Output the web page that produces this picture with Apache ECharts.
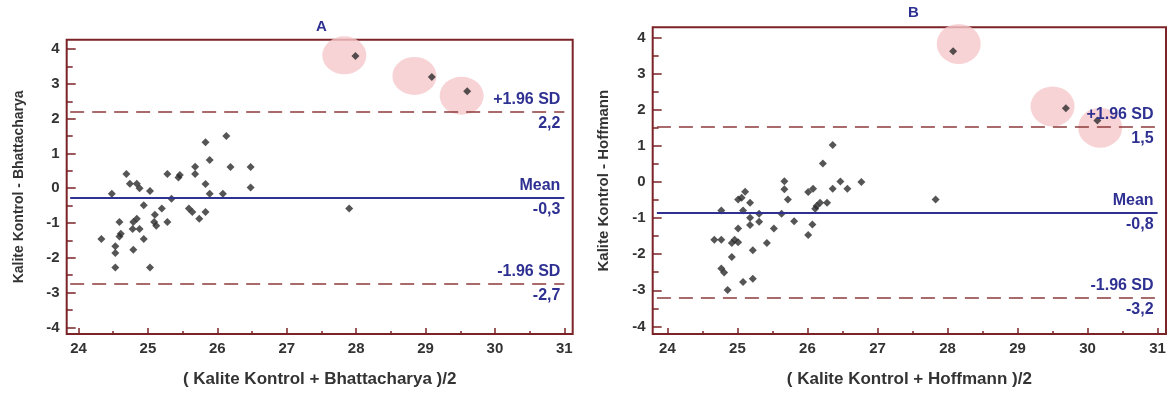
<!DOCTYPE html>
<html>
<head>
<meta charset="utf-8">
<script src="https://cdn.jsdelivr.net/npm/echarts@6/dist/echarts.min.js"></script>
<style>
html,body{margin:0;padding:0;background:#fff;}
#chart{width:1175px;height:393px;}
</style>
</head>
<body>
<div id="chart"></div>
<script>
// tick values
var xTicks = [24, 25, 26, 27, 28, 29, 30, 31];
var xMinorTicks = [24.5, 25.5, 26.5, 27.5, 28.5, 29.5, 30.5];
var yTicks = [-4, -3, -2, -1, 0, 1, 2, 3, 4];
var yMinorTicks = [-3.5, -2.5, -1.5, -0.5, 0.5, 1.5, 2.5, 3.5];

// A : Kalite Kontrol vs Bhattacharya  [mean, difference]
var pointsA = [
	[26.13, 1.50], [25.83, 1.32], [25.89, 0.81], [26.19, 0.61], [26.48, 0.61],
	[25.68, 0.62], [25.68, 0.41], [25.46, 0.38], [25.44, 0.31], [25.28, 0.41],
	[24.69, 0.41], [24.74, 0.13], [24.84, 0.13], [24.88, 0.00], [25.03, -0.08],
	[25.83, 0.12], [26.48, 0.02], [24.48, -0.16], [25.89, -0.16], [26.08, -0.16],
	[25.34, -0.30], [24.94, -0.49], [25.20, -0.58], [25.10, -0.76], [25.59, -0.58],
	[25.64, -0.68], [25.83, -0.68], [25.74, -0.88], [24.84, -0.88], [24.79, -0.97],
	[24.59, -0.97], [25.09, -0.97], [25.12, -1.08], [25.28, -0.97], [24.78, -1.17],
	[24.88, -1.17], [24.61, -1.31], [24.59, -1.39], [24.33, -1.46], [24.94, -1.46],
	[24.53, -1.67], [24.53, -1.86], [24.79, -1.77], [24.53, -2.28], [25.03, -2.28],
	[27.99, 3.80], [29.09, 3.20], [29.60, 2.79], [27.90, -0.58]
];
var circlesA = [[27.83, 3.82], [28.84, 3.23], [29.52, 2.66]];
var statsA = [-0.27, 2.20, -2.74]; // mean, +1.96 SD, -1.96 SD
var spanA = [23.88, 31];

// B : Kalite Kontrol vs Hoffmann
var pointsB = [
	[26.36, 1.02], [26.22, 0.51], [25.67, 0.02], [25.67, -0.20], [26.47, 0.01],
	[26.77, 0.00], [26.36, -0.19], [26.57, -0.19], [26.08, -0.19], [26.01, -0.28],
	[25.11, -0.27], [25.06, -0.44], [25.01, -0.49], [25.72, -0.49], [25.18, -0.58],
	[26.28, -0.58], [26.18, -0.58], [26.13, -0.67], [26.11, -0.74], [24.77, -0.79],
	[25.08, -0.79], [25.31, -0.88], [25.63, -0.88], [25.18, -0.99], [25.18, -1.19],
	[25.31, -1.10], [25.81, -1.09], [26.07, -1.18], [25.01, -1.29], [25.52, -1.29],
	[26.01, -1.47], [24.67, -1.60], [24.77, -1.60], [24.96, -1.60], [25.01, -1.67],
	[24.92, -1.69], [25.42, -1.69], [25.22, -1.89], [24.92, -2.08], [24.77, -2.40],
	[24.81, -2.51], [25.08, -2.77], [25.22, -2.68], [24.86, -2.99],
	[28.08, 3.62], [29.69, 2.04], [30.14, 1.70], [27.83, -0.49]
];
var circlesB = [[28.16, 3.82], [29.50, 2.09], [30.18, 1.50]];
var statsB = [-0.84, 1.53, -3.21];
var spanB = [23.85, 31];

var frameColor = '#7b2326';
var navy = '#2e3192';
var textFont = 'Liberation Sans';

function fmt(v){
	return v.toFixed(1).replace('.', ',');
}

function xAxisPair(grid, minV, maxV, title){
	return [{
		gridIndex: grid, type: 'value', min: minV, max: maxV, position: 'bottom',
		name: title, nameLocation: 'middle', nameGap: 37,
		nameTextStyle: {fontFamily: textFont, fontWeight: 'bold', fontSize: 17, color: '#333'},
		axisLine: {show: false, onZero: false},
		splitLine: {show: false},
		axisTick: {show: true, inside: true, length: 6, customValues: xTicks, lineStyle: {color: frameColor, width: 1.5}},
		axisLabel: {customValues: xTicks, margin: 7, fontFamily: textFont, fontWeight: 'bold', fontSize: 15, color: '#333'}
	}, {
		gridIndex: grid, type: 'value', min: minV, max: maxV, position: 'bottom', offset: 0,
		axisLine: {show: false, onZero: false},
		splitLine: {show: false},
		axisTick: {show: true, inside: true, length: 3, customValues: xMinorTicks, lineStyle: {color: frameColor, width: 1.5}},
		axisLabel: {show: false}
	}];
}

function yAxisPair(grid, minV, maxV, title, nameSize){
	return [{
		gridIndex: grid, type: 'value', min: minV, max: maxV, position: 'left',
		name: title, nameLocation: 'middle', nameGap: 41,
		nameTextStyle: {fontFamily: textFont, fontWeight: 'bold', fontSize: nameSize, color: '#333'},
		axisLine: {show: false, onZero: false},
		splitLine: {show: false},
		axisTick: {show: true, inside: true, length: 9, customValues: yTicks, lineStyle: {color: frameColor, width: 1.5}},
		axisLabel: {customValues: yTicks, margin: 7, fontFamily: textFont, fontWeight: 'bold', fontSize: 15, color: '#333'}
	}, {
		gridIndex: grid, type: 'value', min: minV, max: maxV, position: 'left', offset: 0,
		axisLine: {show: false, onZero: false},
		splitLine: {show: false},
		axisTick: {show: true, inside: true, length: 6, customValues: yMinorTicks, lineStyle: {color: frameColor, width: 1.5}},
		axisLabel: {show: false}
	}];
}

function limitLines(stats, span){
	var lbl = {color: navy, fontFamily: textFont, fontWeight: 'bold', fontSize: 16, distance: 4};
	function pair(y, style, text, pos){
		return [
			{coord: [span[0], y], lineStyle: style, label: Object.assign({formatter: text, position: pos}, lbl)},
			{coord: [span[1], y]}
		];
	}
	var dash = {color: '#8c3a3a', width: 1.5, type: [14, 8]};
	var solid = {color: navy, width: 2, type: 'solid'};
	var hidden = {color: 'rgba(0,0,0,0)', width: 1, type: 'solid'};
	return {
		silent: true,
		symbol: 'none',
		data: [
			pair(stats[1], dash, '+1.96 SD', 'insideEndTop'),
			pair(stats[1], hidden, fmt(stats[1]), 'insideEndBottom'),
			pair(stats[0], solid, 'Mean', 'insideEndTop'),
			pair(stats[0], hidden, fmt(stats[0]), 'insideEndBottom'),
			pair(stats[2], dash, '-1.96 SD', 'insideEndTop'),
			pair(stats[2], hidden, fmt(stats[2]), 'insideEndBottom')
		]
	};
}

var chart = echarts.init(document.getElementById('chart'));

var option = {
	backgroundColor: '#fff',
	animation: false,
	title: [
		{text: 'A', left: 311, top: 14, textStyle: {color: navy, fontFamily: textFont, fontWeight: 'bold', fontSize: 15}},
		{text: 'B', left: 903, top: 0, textStyle: {color: navy, fontFamily: textFont, fontWeight: 'bold', fontSize: 15}}
	],
	grid: [
		{left: 66.7, top: 39.7, width: 506, height: 294.6, show: true, borderColor: frameColor, borderWidth: 2, backgroundColor: 'transparent'},
		{left: 652.7, top: 27.3, width: 513.3, height: 310.7, show: true, borderColor: frameColor, borderWidth: 2, backgroundColor: 'transparent'}
	],
	xAxis: xAxisPair(0, 23.83, 31.12, '( Kalite Kontrol + Bhattacharya )/2')
		.concat(xAxisPair(1, 23.79, 31.12, '( Kalite Kontrol + Hoffmann )/2')),
	yAxis: yAxisPair(0, -4.19, 4.27, 'Kalite Kontrol - Bhattacharya', 14)
		.concat(yAxisPair(1, -4.21, 4.28, 'Kalite Kontrol - Hoffmann', 15)),
	series: [
		{
			type: 'scatter', xAxisIndex: 0, yAxisIndex: 0, z: 1, silent: true,
			symbol: 'circle', symbolSize: [44, 38],
			itemStyle: {color: '#f6c8cb'},
			data: circlesA
		},
		{
			type: 'scatter', xAxisIndex: 0, yAxisIndex: 0, z: 3,
			symbol: 'diamond', symbolSize: 8,
			itemStyle: {color: '#2b2b2b'},
			data: pointsA,
			markLine: limitLines(statsA, spanA)
		},
		{
			type: 'scatter', xAxisIndex: 2, yAxisIndex: 2, z: 1, silent: true,
			symbol: 'circle', symbolSize: [44, 40],
			itemStyle: {color: '#f6c8cb'},
			data: circlesB
		},
		{
			type: 'scatter', xAxisIndex: 2, yAxisIndex: 2, z: 3,
			symbol: 'diamond', symbolSize: 8,
			itemStyle: {color: '#2b2b2b'},
			data: pointsB,
			markLine: limitLines(statsB, spanB)
		}
	]
};
chart.setOption(option);
</script>
</body>
</html>
